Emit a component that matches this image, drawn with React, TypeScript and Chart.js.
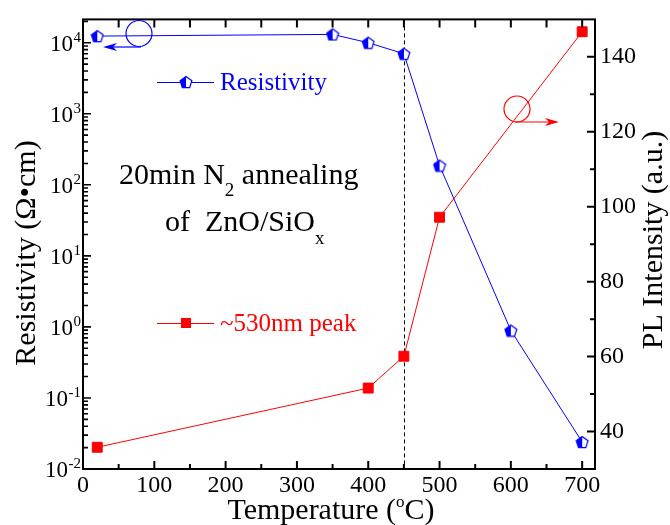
import React, { useEffect, useRef } from "react";
import { Chart, registerables } from "chart.js";

Chart.register(...registerables);

const FONT = "'Liberation Serif', 'Times New Roman', serif";

// Resistivity (left, log axis)
const RES_TEMPS = [20, 350, 400, 450, 500, 600, 700];
const RESISTIVITY = [1.24e4, 1.31e4, 1.0e4, 7.0e3, 187, 0.89, 0.024];
// PL intensity of ~530nm peak (right axis)
const PL_TEMPS = [20, 400, 450, 500, 700];
const PL_INTENSITY = [35.8, 51.6, 60.1, 97.2, 146.7];

const X_TICKS = [0, 100, 200, 300, 400, 500, 600, 700];
const X_MINOR = [50, 150, 250, 350, 450, 550, 650];
const PL_TICKS = [40, 60, 80, 100, 120, 140];
const PL_MINOR = [50, 70, 90, 110, 130];
const RES_DECADES = [-2, -1, 0, 1, 2, 3, 4];
const MARK_TEMP = 450;

const BLUE = "#0000ff";
const RED = "#ff0000";

function makePentagon(): HTMLCanvasElement {
  const c = document.createElement("canvas");
  c.width = 14;
  c.height = 14;
  const g = c.getContext("2d")!;
  const cx = 7,
    cy = 7.6,
    r = 6.2;
  const path = () => {
    g.beginPath();
    for (let k = 0; k < 5; k++) {
      const a = -Math.PI / 2 + (k * 2 * Math.PI) / 5;
      const px = cx + r * Math.cos(a);
      const py = cy + r * Math.sin(a);
      if (k === 0) g.moveTo(px, py);
      else g.lineTo(px, py);
    }
    g.closePath();
  };
  path();
  g.fillStyle = "#fff";
  g.fill();
  g.save();
  path();
  g.clip();
  g.fillStyle = BLUE;
  g.fillRect(0, 0, cx, 14);
  g.restore();
  path();
  g.strokeStyle = BLUE;
  g.lineWidth = 1.2;
  g.stroke();
  return c;
}

function arrow(ctx: CanvasRenderingContext2D, x0: number, y: number, x1: number, color: string) {
  const dir = x1 > x0 ? 1 : -1;
  ctx.save();
  ctx.strokeStyle = color;
  ctx.fillStyle = color;
  ctx.lineWidth = 1.2;
  ctx.beginPath();
  ctx.moveTo(x0, y);
  ctx.lineTo(x1 - dir * 8, y);
  ctx.stroke();
  ctx.beginPath();
  ctx.moveTo(x1, y);
  ctx.lineTo(x1 - dir * 14, y - 4);
  ctx.lineTo(x1 - dir * 10, y);
  ctx.lineTo(x1 - dir * 14, y + 4);
  ctx.closePath();
  ctx.fill();
  ctx.restore();
}

function circle(ctx: CanvasRenderingContext2D, x: number, y: number, r: number, color: string) {
  ctx.save();
  ctx.strokeStyle = color;
  ctx.lineWidth = 1.2;
  ctx.beginPath();
  ctx.arc(x, y, r, 0, Math.PI * 2);
  ctx.stroke();
  ctx.restore();
}

function drawParts(
  ctx: CanvasRenderingContext2D,
  parts: { t: string; size: number; dy: number }[],
  x: number,
  y: number,
  align: "left" | "center"
) {
  let total = 0;
  const widths = parts.map((p) => {
    ctx.font = `${p.size}px ${FONT}`;
    const w = ctx.measureText(p.t).width;
    total += w;
    return w;
  });
  let cx = align === "center" ? x - total / 2 : x;
  ctx.textAlign = "left";
  ctx.textBaseline = "alphabetic";
  parts.forEach((p, i) => {
    ctx.font = `${p.size}px ${FONT}`;
    ctx.fillText(p.t, cx, y + p.dy);
    cx += widths[i];
  });
}

export default function App() {
  const ref = useRef<HTMLCanvasElement>(null);

  useEffect(() => {
    const canvas = ref.current!;
    const pent = makePentagon();

    const decor = {
      id: "decor",
      beforeDatasetsDraw(chart: any) {
        const { ctx, chartArea: a, scales } = chart;
        const px = Math.round(scales.x.getPixelForValue(MARK_TEMP)) + 0.5;
        ctx.save();
        ctx.strokeStyle = "#000";
        ctx.lineWidth = 1;
        ctx.setLineDash([4, 3]);
        ctx.beginPath();
        ctx.moveTo(px, a.top);
        ctx.lineTo(px, a.bottom);
        ctx.stroke();
        ctx.restore();
      },
      afterDraw(chart: any) {
        const { ctx, chartArea: a, scales } = chart;
        const sx = scales.x;
        const sy = scales.y;
        const sy1 = scales.y1;
        ctx.save();
        ctx.strokeStyle = "#000";
        ctx.fillStyle = "#000";
        ctx.lineWidth = 2;
        // frame
        ctx.strokeRect(a.left, a.top, a.right - a.left, a.bottom - a.top);
        ctx.beginPath();
        // bottom & top ticks
        X_TICKS.forEach((v) => {
          const p = sx.getPixelForValue(v);
          ctx.moveTo(p, a.bottom);
          ctx.lineTo(p, a.bottom - 8);
          ctx.moveTo(p, a.top);
          ctx.lineTo(p, a.top + 8);
        });
        X_MINOR.forEach((v) => {
          const p = sx.getPixelForValue(v);
          ctx.moveTo(p, a.bottom);
          ctx.lineTo(p, a.bottom - 5);
          ctx.moveTo(p, a.top);
          ctx.lineTo(p, a.top + 8);
        });
        // right ticks
        PL_TICKS.forEach((v) => {
          const p = sy1.getPixelForValue(v);
          ctx.moveTo(a.right, p);
          ctx.lineTo(a.right - 8, p);
        });
        PL_MINOR.forEach((v) => {
          const p = sy1.getPixelForValue(v);
          ctx.moveTo(a.right, p);
          ctx.lineTo(a.right - 5, p);
        });
        ctx.stroke();
        // left log ticks
        ctx.beginPath();
        ctx.lineWidth = 1.6;
        RES_DECADES.forEach((d) => {
          for (let m = 1; m <= 9; m++) {
            const v = m * Math.pow(10, d);
            if (v > sy.max) break;
            const p = sy.getPixelForValue(v);
            ctx.moveTo(a.left, p);
            ctx.lineTo(a.left + (m === 1 ? 8 : 5), p);
          }
        });
        ctx.stroke();

        // left tick labels 10^n
        ctx.fillStyle = "#000";
        RES_DECADES.forEach((d) => {
          const p = sy.getPixelForValue(Math.pow(10, d));
          const exp = d < 0 ? "-" + Math.abs(d) : String(d);
          ctx.font = `15px ${FONT}`;
          ctx.textAlign = "right";
          ctx.textBaseline = "alphabetic";
          const ew = ctx.measureText(exp).width;
          ctx.fillText(exp, 81, p - 1);
          ctx.font = `23px ${FONT}`;
          ctx.fillText("10", 81 - ew - 0.5, p + 8);
        });

        // axis titles
        ctx.fillStyle = "#000";
        drawParts(
          ctx,
          [
            { t: "Temperature (", size: 30, dy: 0 },
            { t: "o", size: 17, dy: -12 },
            { t: "C)", size: 30, dy: 0 },
          ],
          331,
          519,
          "center"
        );
        ctx.save();
        ctx.translate(35, 253);
        ctx.rotate(-Math.PI / 2);
        ctx.font = `30px ${FONT}`;
        ctx.textAlign = "center";
        ctx.textBaseline = "alphabetic";
        ctx.fillText("Resistivity (\u03A9\u2022cm)", 0, 0);
        ctx.restore();
        ctx.save();
        ctx.translate(662, 240);
        ctx.rotate(-Math.PI / 2);
        ctx.font = `30px ${FONT}`;
        ctx.textAlign = "center";
        ctx.textBaseline = "alphabetic";
        ctx.fillText("PL Intensity (a.u.)", 0, 0);
        ctx.restore();

        // annotation
        drawParts(
          ctx,
          [
            { t: "20min N", size: 30, dy: 0 },
            { t: "2", size: 19, dy: 12 },
            { t: " annealing", size: 30, dy: 0 },
          ],
          119,
          184,
          "left"
        );
        drawParts(
          ctx,
          [
            { t: "of  ZnO/SiO", size: 30, dy: 0 },
            { t: "x", size: 19, dy: 13 },
          ],
          165,
          231,
          "left"
        );

        // legends
        ctx.strokeStyle = BLUE;
        ctx.lineWidth = 1;
        ctx.beginPath();
        ctx.moveTo(157, 82.5);
        ctx.lineTo(214, 82.5);
        ctx.stroke();
        ctx.drawImage(pent, 186 - 7, 82 - 7);
        ctx.fillStyle = BLUE;
        ctx.font = `25px ${FONT}`;
        ctx.textAlign = "left";
        ctx.textBaseline = "alphabetic";
        ctx.fillText("Resistivity", 220, 90);

        ctx.strokeStyle = RED;
        ctx.beginPath();
        ctx.moveTo(157, 323.5);
        ctx.lineTo(214, 323.5);
        ctx.stroke();
        ctx.fillStyle = RED;
        ctx.fillRect(181, 318, 10, 10);
        ctx.fillText("~530nm peak", 220, 331);

        // axis indicators
        circle(ctx, 139, 33.5, 13, BLUE);
        arrow(ctx, 141, 47, 103, BLUE);
        circle(ctx, 517, 109, 13, RED);
        arrow(ctx, 515, 122, 559, RED);

        ctx.restore();
      },
    };

    const chart = new Chart(canvas, {
      type: "line",
      data: {
        datasets: [
          {
            label: "Resistivity",
            data: RES_TEMPS.map((t, i) => ({ x: t, y: RESISTIVITY[i] })),
            yAxisID: "y",
            borderColor: BLUE,
            backgroundColor: BLUE,
            borderWidth: 1,
            pointStyle: pent as any,
            pointRadius: 6,
            pointHoverRadius: 6,
            tension: 0,
            fill: false,
          },
          {
            label: "~530nm peak",
            data: PL_TEMPS.map((t, i) => ({ x: t, y: PL_INTENSITY[i] })),
            yAxisID: "y1",
            borderColor: RED,
            backgroundColor: RED,
            borderWidth: 1,
            pointStyle: "rect",
            pointRadius: 7,
            pointHoverRadius: 7,
            pointBackgroundColor: RED,
            pointBorderColor: RED,
            pointBorderWidth: 1,
            tension: 0,
            fill: false,
          },
        ],
      },
      options: {
        responsive: false,
        animation: false,
        events: [],
        layout: { padding: { top: 15, left: 0, right: 0, bottom: 0 } },
        plugins: { legend: { display: false }, tooltip: { enabled: false } },
        scales: {
          x: {
            type: "linear",
            position: "bottom",
            min: 0,
            max: 718,
            grid: { display: false, drawTicks: false },
            border: { display: false },
            afterBuildTicks: (s: any) => {
              s.ticks = X_TICKS.map((v) => ({ value: v }));
            },
            afterFit: (s: any) => {
              s.height = 56;
            },
            ticks: {
              color: "#000",
              font: { family: FONT, size: 24 },
              padding: 2,
              maxRotation: 0,
              autoSkip: false,
            },
          },
          y: {
            type: "logarithmic",
            position: "left",
            min: 0.01,
            max: 2.13e4,
            grid: { display: false, drawTicks: false },
            border: { display: false },
            ticks: { display: false },
            afterFit: (s: any) => {
              s.width = 83;
            },
          },
          y1: {
            type: "linear",
            position: "right",
            min: 30,
            max: 150,
            grid: { display: false, drawTicks: false },
            border: { display: false },
            afterBuildTicks: (s: any) => {
              s.ticks = PL_TICKS.map((v) => ({ value: v }));
            },
            afterFit: (s: any) => {
              s.width = 75;
            },
            ticks: {
              color: "#000",
              font: { family: FONT, size: 24 },
              padding: 5,
              autoSkip: false,
            },
          },
        },
      } as any,
      plugins: [decor],
    });
    return () => chart.destroy();
  }, []);

  return (
    <canvas
      ref={ref}
      width={670}
      height={525}
      style={{ position: "absolute", left: 0, top: 0, display: "block", background: "#fff" }}
    />
  );
}
